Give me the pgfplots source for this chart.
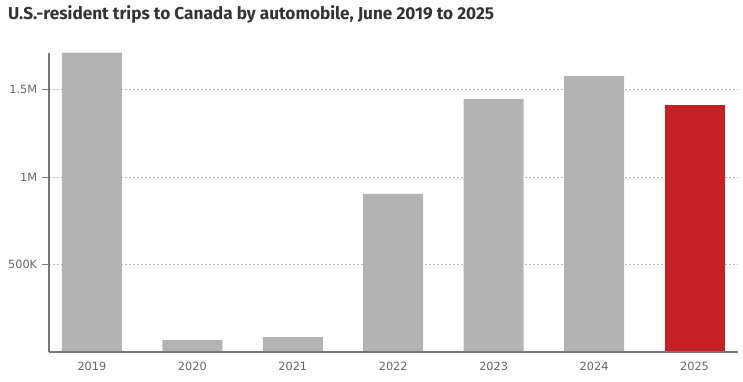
\documentclass[border=0pt]{standalone}
\usepackage{fontspec}
\setmainfont{DejaVu Sans}
\newfontfamily\titlefont{Fira Sans}
\usepackage{pgfplots}
\pgfplotsset{compat=1.18}
\definecolor{bargray}{HTML}{B3B3B3}
\definecolor{barred}{HTML}{C42026}
\definecolor{axgray}{HTML}{777777}
\definecolor{labgray}{HTML}{666666}
\definecolor{gridgray}{HTML}{BBBBBB}
\definecolor{titlec}{HTML}{333333}
\begin{document}
\begin{tikzpicture}
\path[use as bounding box] (0,0) rectangle (743pt,381pt);
\node[anchor=base west, inner sep=0pt, text=titlec, font=\titlefont\bfseries\fontsize{17.2}{20}\selectfont] at (8pt,361pt) {U.S.-resident trips to Canada by automobile, June 2019 to 2025};
\begin{axis}[
  at={(48.7pt,28.7pt)}, anchor=south west,
  scale only axis, width=689pt, height=299.6pt,
  xmin=-0.43, xmax=6.43, ymin=0, ymax=1710000,
  axis x line=bottom, axis y line=left,
  axis line style={-, draw=axgray, line width=2pt},
  xtick={0,1,2,3,4,5,6},
  xticklabels={2019,2020,2021,2022,2023,2024,2025},
  x tick style={draw=none},
  ytick={500000,1000000,1500000},
  yticklabels={500K,1M,1.5M},
  y tick style={draw=axgray, line width=1pt},
  tick align=outside, major tick length=7pt,
  scaled y ticks=false,
  ymajorgrids,
  grid style={draw=gridgray, line width=0.8pt, dash pattern=on 2pt off 2pt},
  ticklabel style={text=labgray, font=\fontsize{11.3}{13}\selectfont},
  xticklabel style={yshift=1pt},
  yticklabel style={xshift=-1pt},
  ybar, bar width=60pt, bar shift=0pt,
]
\addplot[fill=bargray, draw=none] coordinates {(0,1710000) (1,70000) (2,87000) (3,904000) (4,1446000) (5,1577000)};
\addplot[fill=barred, draw=none] coordinates {(6,1412000)};
\draw[axgray, line width=2pt] (axis cs:-0.43,0) -- (axis cs:6.43,0);
\end{axis}
\end{tikzpicture}
\end{document}
